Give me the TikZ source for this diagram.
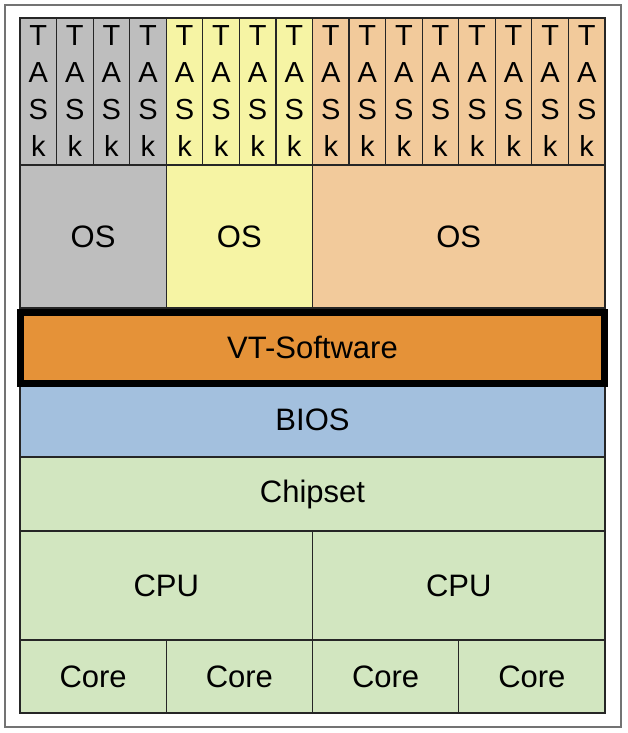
\documentclass[tikz,border=0pt]{standalone}
\usepackage{fontspec}
\setmainfont{Liberation Sans}
\usepackage{tikz}

\definecolor{osgray}{RGB}{190,190,190}
\definecolor{osyellow}{RGB}{246,244,164}
\definecolor{ospeach}{RGB}{242,202,155}
\definecolor{vtorange}{RGB}{229,146,56}
\definecolor{biosblue}{RGB}{163,192,222}
\definecolor{hwgreen}{RGB}{210,230,192}

\begin{document}
\begin{tikzpicture}[x=1pt, y=-1pt,
	every node/.style = {shape=rectangle, draw=black!85, line width=1.2pt,
		inner sep=0pt, outer sep=0pt, anchor=north west, align=center,
		font=\fontsize{31}{37}\selectfont},
	task/.style = {minimum width=36.5625pt, minimum height=147pt,
		font=\fontsize{29}{37}\selectfont},
	layer/.style = {fill=#1, minimum width=585pt, minimum height=74pt}]
	\useasboundingbox (0,0) rectangle (627,733);
	\draw[black!55, line width=1.3pt] (5,5) rectangle (621,727);
	% tasks
	\foreach \i in {0,...,15} {
		\ifnum\i<4 \def\col{osgray}\else\ifnum\i<8 \def\col{osyellow}\else\def\col{ospeach}\fi\fi
		\node[task, fill=\col] (task\i) at (20+\i*36.5625, 18) {T\\A\\S\\k};
	}
	% operating systems
	\node[fill=osgray, minimum width=146.25pt, minimum height=143pt] (os1) at (20,165) {OS};
	\node[fill=osyellow, minimum width=146.25pt, minimum height=143pt] (os2) at (166.25,165) {OS};
	\node[fill=ospeach, minimum width=292.5pt, minimum height=143pt] (os3) at (312.5,165) {OS};
	% hardware
	\node[layer=biosblue] (bios) at (20,383) {BIOS};
	\node[layer=hwgreen] (chipset) at (20,457) {Chipset};
	\node[fill=hwgreen, minimum width=292.5pt, minimum height=109pt] (cpu1) at (20,531) {CPU};
	\node[fill=hwgreen, minimum width=292.5pt, minimum height=109pt] (cpu2) at (312.5,531) {CPU};
	\foreach \k in {0,...,3}
		\node[fill=hwgreen, minimum width=146.25pt, minimum height=73pt] (core\k) at (20+\k*146.25, 640) {Core};
	% hypervisor
	\node[fill=vtorange, draw=black, line width=7pt, minimum width=584pt, minimum height=71pt] (vt) at (20.5,312) {VT-Software};
\end{tikzpicture}
\end{document}
